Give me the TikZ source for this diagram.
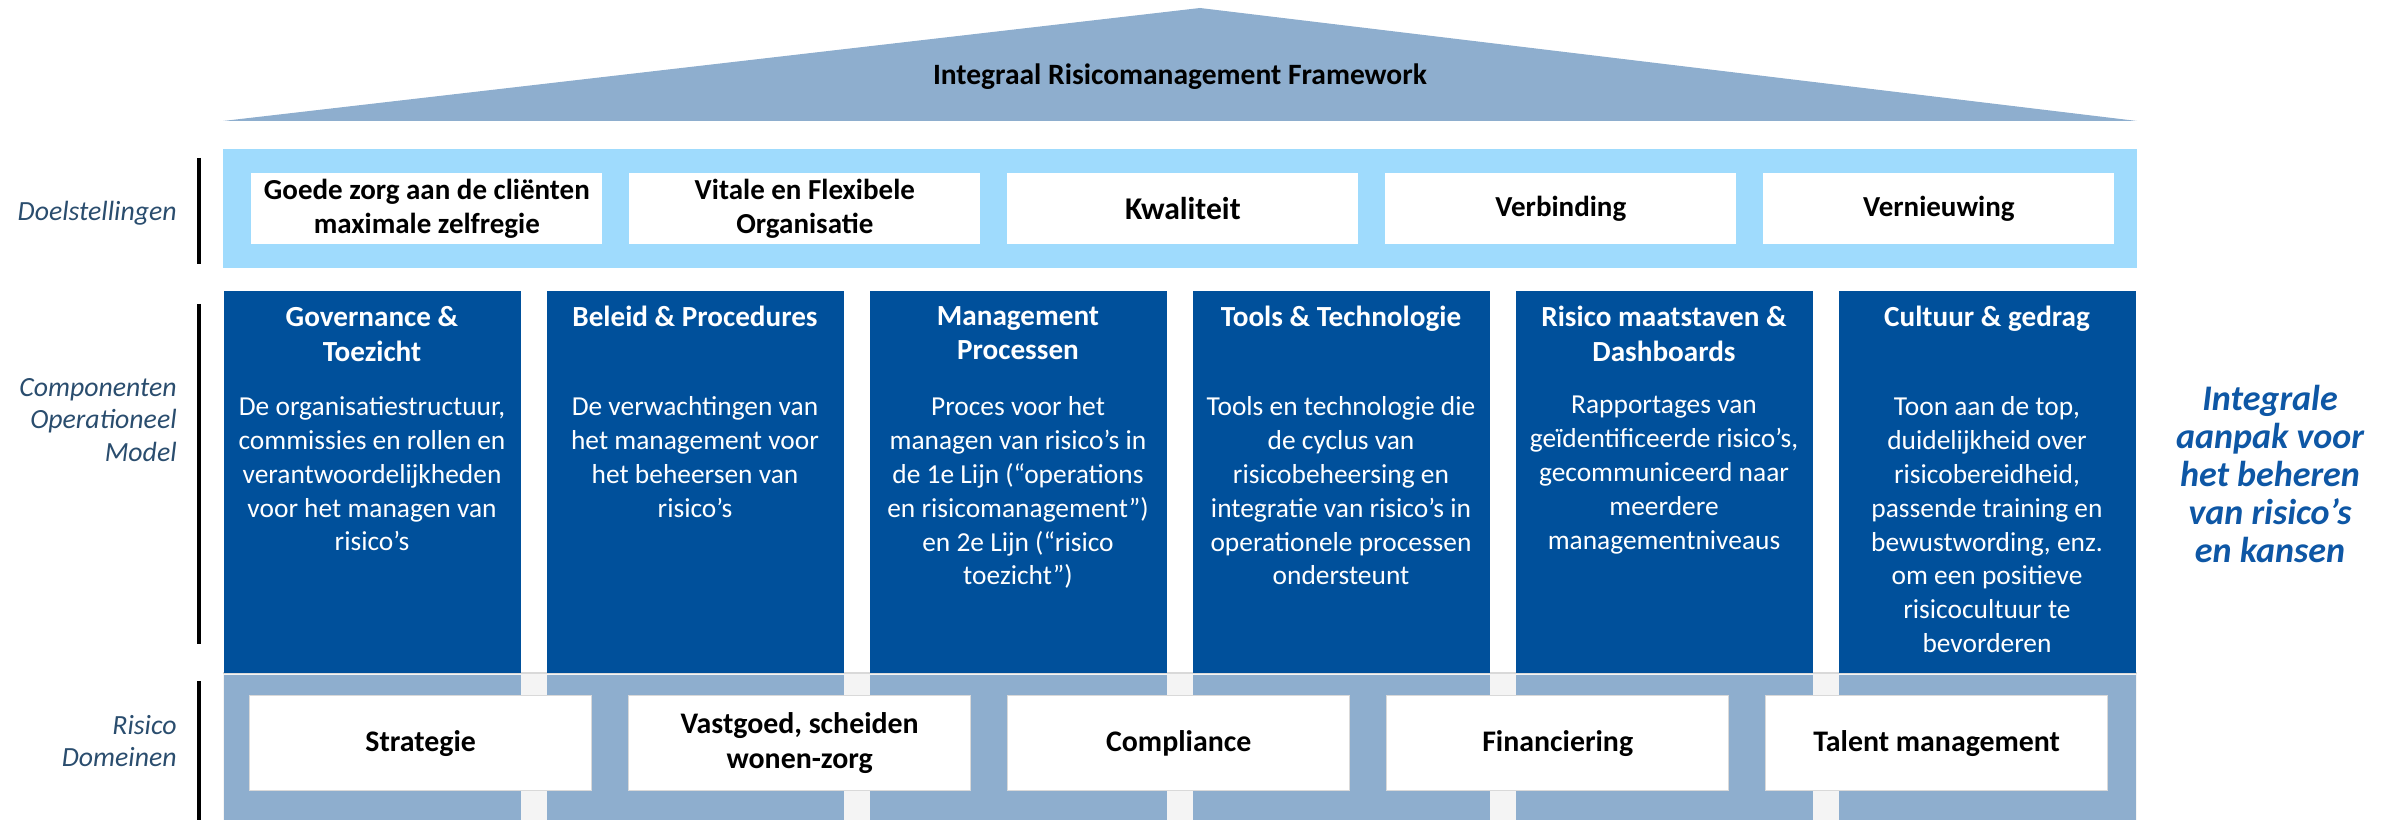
\documentclass[tikz,border=0pt]{standalone}
\usepackage{fontspec}
\setmainfont{Carlito}
\definecolor{roof}{HTML}{8EAECE}
\definecolor{skyband}{HTML}{9FDBFD}
\definecolor{pillarblue}{HTML}{00509B}
\definecolor{gapgray}{HTML}{F4F4F4}
\definecolor{edgegray}{HTML}{D9D9D9}
\definecolor{labelblue}{HTML}{2A4D6E}
\definecolor{claimblue}{HTML}{0E57A5}
\tikzset{
    goalbox/.style={fill=white, minimum width=70.2mm, minimum height=14.2mm, inner sep=0pt, align=center, font=\fontsize{16.5}{19.8}\selectfont\bfseries},
    domainbox/.style={fill=white, draw=edgegray, line width=0.8pt, minimum width=68.4mm, minimum height=19mm, inner sep=0pt, align=center, font=\fontsize{17}{19.8}\selectfont\bfseries},
    pillar/.style={fill=pillarblue, minimum width=59.4mm, minimum height=76.4mm, inner sep=0pt, anchor=north west},
    coltitle/.style={text=white, align=center, inner sep=0pt, anchor=north, font=\fontsize{16.6}{19.7}\selectfont\bfseries},
    colbody/.style={text=white, align=center, inner sep=0pt, anchor=north, font=\fontsize{15.6}{19.3}\selectfont},
    sidelabel/.style={text=labelblue, align=right, anchor=east, inner sep=0pt, font=\fontsize{15.8}{18.7}\selectfont\itshape},
    sidebar/.style={line width=2pt}
}
\begin{document}
\begin{tikzpicture}[x=0.2mm, y=-0.2mm]
    \useasboundingbox (0,0) rectangle (2397,820);
    \fill[roof] (223,121) -- (1200,8) -- (2137,121) -- cycle;
    \node[inner sep=0pt, font=\fontsize{16.8}{18}\selectfont\bfseries] (title) at (1180,77) {Integraal Risicomanagement Framework};

    \fill[skyband] (223,149) rectangle (2137,268);
    \foreach \t [count=\i from 0] in {{Goede zorg aan de cliënten\\maximale zelfregie}, {Vitale en Flexibele\\Organisatie}, {\fontsize{18}{20}\selectfont Kwaliteit}, {Verbinding}, {Vernieuwing}} {
        \node[goalbox, anchor=north west] (goal\i) at (251+378*\i, 173) {\t};
    }

    \fill[gapgray] (223,673) rectangle (2137,820);
    \draw[edgegray, line width=0.8pt] (223,673) -- (2137,673);
    \foreach \i in {0,...,5} {
        \fill[roof] (224+323*\i, 675) rectangle (521+323*\i, 820);
    }
    \foreach \t [count=\i from 0] in {{Strategie}, {Vastgoed, scheiden\\wonen-zorg}, {Compliance}, {Financiering}, {Talent management}} {
        \node[domainbox, anchor=north west] (domain\i) at (249+379*\i, 695) {\t};
    }

    \foreach \h/\b [count=\i from 0] in {
        {Governance \&\\Toezicht}/{De organisatiestructuur,\\commissies en rollen en\\verantwoordelijkheden\\voor het managen van\\risico's},
        {Beleid \& Procedures}/{De verwachtingen van\\het management voor\\het beheersen van\\risico’s},
        {Management\\Processen}/{Proces voor het\\managen van risico’s in\\de 1e Lijn (“operations\\en risicomanagement”)\\en 2e Lijn (“risico\\toezicht”)},
        {Tools \& Technologie}/{Tools en technologie die\\de cyclus van\\risicobeheersing en\\integratie van risico’s in\\operationele processen\\ondersteunt},
        {Risico maatstaven \&\\Dashboards}/{Rapportages van\\geïdentificeerde risico’s,\\gecommuniceerd naar\\meerdere\\managementniveaus},
        {Cultuur \& gedrag}/{Toon aan de top,\\duidelijkheid over\\risicobereidheid,\\passende training en\\bewustwording, enz.\\om een positieve\\risicocultuur te\\bevorderen}} {
        \node[pillar] (col\i) at (224+323*\i, 291) {};
        \node[coltitle] (head\i) at (372+323*\i, 306) {\h};
        \node[colbody] (text\i) at (372+323*\i, 396) {\b};
    }

    \draw[sidebar] (199,158) -- (199,264);
    \draw[sidebar] (199,304) -- (199,644);
    \draw[sidebar] (199,681) -- (199,820);
    \node[sidelabel] (goals) at (177,213) {Doelstellingen};
    \node[sidelabel] (components) at (177,420) {Componenten\\Operationeel\\Model};
    \node[sidelabel] (domains) at (177,741) {Risico\\Domeinen};

    \node[text=claimblue, align=center, inner sep=0pt, font=\fontsize{20.5}{21.6}\selectfont\bfseries\itshape] (claim) at (2270,474) {Integrale\\aanpak voor\\het beheren\\van risico’s\\en kansen};
\end{tikzpicture}
\end{document}
